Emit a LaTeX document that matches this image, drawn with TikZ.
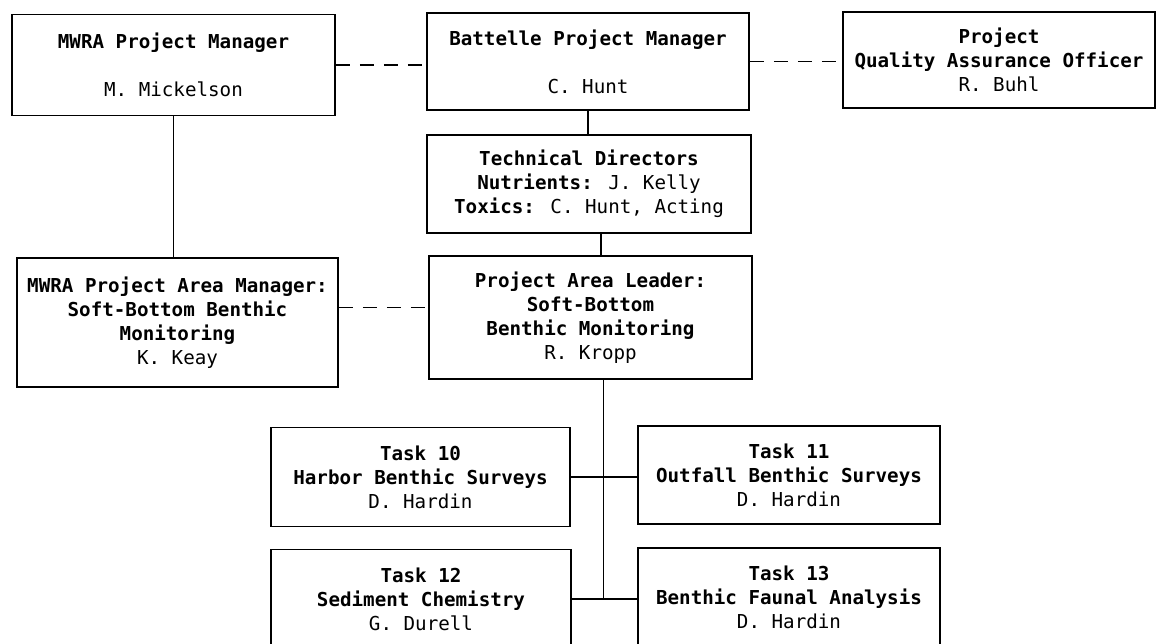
\documentclass[tikz,border=0pt]{standalone}
\usepackage{fontspec}
\newfontfamily\orgmono{DejaVu Sans Mono}
\begin{document}
\begin{tikzpicture}[x=1pt,y=-1pt,
  orgbox/.style={draw=black, line width=1.8pt, fill=white, inner sep=0pt, align=center,
    font=\orgmono\fontsize{19.2}{24}\selectfont},
  link/.style={line width=1.7pt, draw=black},
  dlink/.style={line width=1.7pt, draw=black, dash pattern=on 14pt off 10pt}]
\useasboundingbox (0,0) rectangle (1161,643);
\fill[white] (0,0) rectangle (1161,643);
\clip (0,0) rectangle (1161,643);

\node[orgbox, minimum width=323pt, minimum height=101pt] (A) at (173.5,65) {\textbf{MWRA Project Manager}\\[24pt]M. Mickelson};
\node[orgbox, minimum width=322pt, minimum height=97pt] (B) at (588,61.5) {\textbf{Battelle Project Manager}\\[24pt]C. Hunt};
\node[orgbox, minimum width=312pt, minimum height=96pt] (C) at (999,60) {\textbf{Project}\\\textbf{Quality Assurance Officer}\\R. Buhl};
\node[orgbox, minimum width=324pt, minimum height=98pt] (TD) at (589,184) {\textbf{Technical Directors}\\\textbf{Nutrients:} J. Kelly\\\textbf{Toxics:} C. Hunt, Acting};
\node[orgbox, minimum width=321pt, minimum height=129pt] (D) at (177.5,322.5) {\textbf{MWRA Project Area Manager:}\\\textbf{Soft-Bottom Benthic}\\\textbf{Monitoring}\\K. Keay};
\node[orgbox, minimum width=323pt, minimum height=123pt] (E) at (590.5,317.5) {\textbf{Project Area Leader:}\\\textbf{Soft-Bottom}\\\textbf{Benthic Monitoring}\\R. Kropp};
\node[orgbox, minimum width=299pt, minimum height=99pt] (T10) at (420.5,477) {\textbf{Task 10}\\\textbf{Harbor Benthic Surveys}\\D. Hardin};
\node[orgbox, minimum width=302pt, minimum height=98pt] (T11) at (789,475) {\textbf{Task 11}\\\textbf{Outfall Benthic Surveys}\\D. Hardin};
\node[orgbox, minimum width=300pt, minimum height=99pt] (T12) at (421,599) {\textbf{Task 12}\\\textbf{Sediment Chemistry}\\G. Durell};
\node[orgbox, minimum width=302pt, minimum height=98pt] (T13) at (789,597) {\textbf{Task 13}\\\textbf{Benthic Faunal Analysis}\\D. Hardin};

% dashed liaison lines
\draw[dlink] (A.east) -- (A.east -| B.west);
\draw[dlink] (B.east) -- (B.east -| C.west);
\draw[dlink] ([yshift=15pt]D.east) -- ([yshift=15pt]D.east -| E.west);

% solid reporting lines
\draw[link] (A.south) -- (A.south |- D.north);
\draw[link] (B.south) -- (B.south |- TD.north);
\draw[link] ([xshift=12pt]TD.south) -- ([xshift=12pt]TD.south |- E.north);
\coordinate (sp) at ([xshift=13pt]E.south);
\draw[link] (sp) -- (sp |- T12.east);
\draw[link] (T10.east) -- (T10.east -| T11.west);
\draw[link] (T12.east) -- (T12.east -| T13.west);
\end{tikzpicture}
\end{document}
